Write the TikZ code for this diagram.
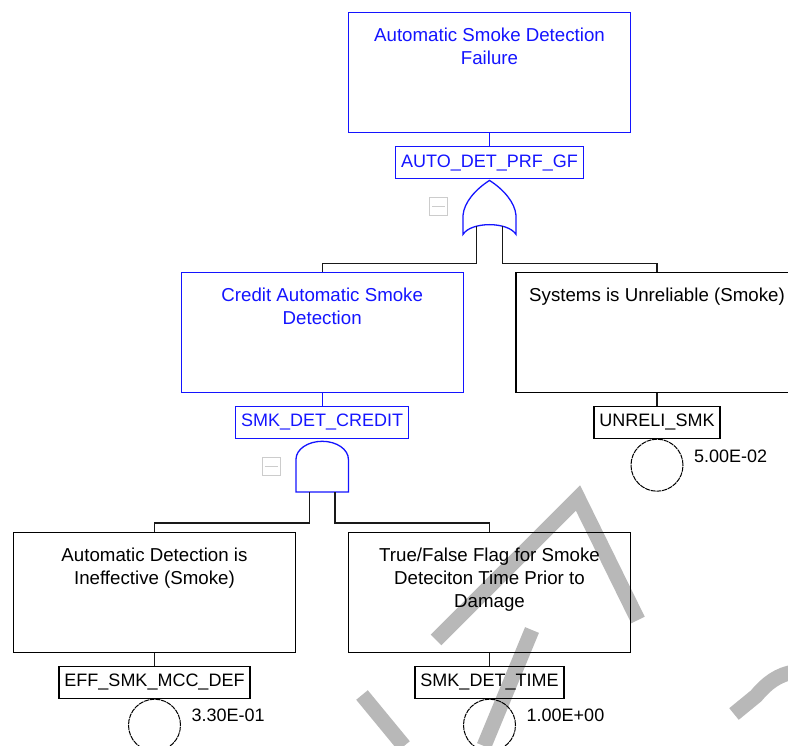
\documentclass[tikz,border=0pt]{standalone}
\usepackage{fontspec}
\setmainfont{Liberation Sans}
\usetikzlibrary{positioning}
\definecolor{ftblue}{RGB}{20,20,255}
\definecolor{wmgray}{RGB}{184,184,184}
\tikzset{
	evbox/.style={draw, line width=1.2pt, minimum width=282pt, minimum height=120pt, inner sep=0pt, anchor=north},
	evtext/.style={inner sep=0pt, align=center, anchor=north, font=\fontsize{18.7}{23}\selectfont},
	idbox/.style={draw, line width=1.2pt, minimum height=32pt, inner xsep=5.5pt, inner ysep=0pt, anchor=north, font=\fontsize{18}{22}\selectfont},
	basic/.style={draw, circle, minimum size=52pt, inner sep=0pt, line width=1pt, dash pattern=on 5pt off 0.8pt, anchor=north},
	prob/.style={inner sep=0pt, anchor=west, font=\fontsize{18}{22}\selectfont},
	gateline/.style={draw=ftblue, line width=1.3pt},
	wire/.style={line width=1.3pt, black!90},
	collapse/.style={draw=black!20, line width=1.2pt, minimum size=18pt, inner sep=0pt,
		path picture={\draw[black!20, line width=1.2pt] ([xshift=2.5pt]path picture bounding box.west) -- ([xshift=-2.5pt]path picture bounding box.east);}},
	wmark/.style={wmgray, line width=15pt}
}

\begin{document}
\begin{tikzpicture}[x=1pt,y=-1pt]
			%%%%% START %%%%%
			\useasboundingbox (0,0) rectangle (788,746);
			
			% watermark
			\draw[wmark] (436,640) -- (578,498) -- (638,620);
			\draw[wmark] (532,630) -- (484,746);
			\draw[wmark] (362,695) -- (404,746);
			\draw[wmark] (734,714) -- (756,696) .. controls (766,684) and (778,674) .. (795,672);
			
			% top event
			\node[evbox, ftblue] (topbox) at (489.5,12) {};
			\node[evtext, ftblue, below=16pt of topbox.north] (toptext) {Automatic Smoke Detection\\Failure};
			\node[idbox, ftblue, below=13pt of topbox] (topid) {AUTO\_DET\_PRF\_GF};
			\draw[ftblue, line width=1.2pt] (topbox) -- (topid);
			
			% or gate
			\begin{scope}[shift={(topid.south)}]
				\draw[gateline] (0,1) .. controls (-14,10) and (-25.5,23) .. (-26.5,36) -- (-26.5,55) .. controls (-18.5,42) and (18.5,42) .. (26.5,55) -- (26.5,36) .. controls (25.5,23) and (14,10) .. (0,1) -- cycle;
				\coordinate (or-in1) at (-12.8,46.8);
				\coordinate (or-in2) at (12.8,46.8);
				\node[collapse] (orbtn) at (-51,27) {};
			\end{scope}
			
			% second level
			\node[evbox, ftblue] (credbox) at (322.2,271.7) {};
			\node[evtext, ftblue, below=16pt of credbox.north] (credtext) {Credit Automatic Smoke\\Detection};
			\node[idbox, ftblue, below=12.6pt of credbox] (credid) {SMK\_DET\_CREDIT};
			\draw[ftblue, line width=1.2pt] (credbox) -- (credid);
			
			\node[evbox] (sysbox) at (657,271.7) {};
			\node[evtext, below=16pt of sysbox.north] (systext) {Systems is Unreliable (Smoke)};
			\node[idbox, below=12.6pt of sysbox] (sysid) {UNRELI\_SMK};
			\draw[wire] (sysbox) -- (sysid);
			\node[basic, below=0pt of sysid] (sysev) {};
			\node[prob] (sysprob) at ([xshift=37pt,yshift=9pt]sysev.center) {5.00E-02};
			
			\draw[wire] (or-in1) -- ++(0,37.2) -| (credbox.north);
			\draw[wire] (or-in2) -- ++(0,37.2) -| (sysbox.north);
			
			% and gate
			\begin{scope}[shift={(credid.south)}]
				\draw[gateline] (-26.2,53.3) -- (-26.2,20.6) .. controls (-26.2,10.66) and (-14.47,2.6) .. (0,2.6) .. controls (14.47,2.6) and (26.2,10.66) .. (26.2,20.6) -- (26.2,53.3) -- cycle;
				\coordinate (and-in1) at (-12.8,53.3);
				\coordinate (and-in2) at (12.8,53.3);
				\node[collapse] (andbtn) at (-51,27.6) {};
			\end{scope}
			
			% third level
			\node[evbox] (effbox) at (154.5,531.7) {};
			\node[evtext, below=16pt of effbox.north] (efftext) {Automatic Detection is\\Ineffective (Smoke)};
			\node[idbox, below=12.6pt of effbox] (effid) {EFF\_SMK\_MCC\_DEF};
			\draw[wire] (effbox) -- (effid);
			\node[basic, below=0pt of effid] (effev) {};
			\node[prob] (effprob) at ([xshift=37pt,yshift=10pt]effev.center) {3.30E-01};
			
			\node[evbox] (timebox) at (489.5,531.7) {};
			\node[evtext, below=16pt of timebox.north] (timetext) {True/False Flag for Smoke\\Deteciton Time Prior to\\Damage};
			\node[idbox, below=12.6pt of timebox] (timeid) {SMK\_DET\_TIME};
			\draw[wire] (timebox) -- (timeid);
			\node[basic, below=0pt of timeid] (timeev) {};
			\node[prob] (timeprob) at ([xshift=37pt,yshift=10pt]timeev.center) {1.00E+00};
			
			\draw[wire] (and-in1) -- ++(0,31) -| (effbox.north);
			\draw[wire] (and-in2) -- ++(0,31) -| (timebox.north);
			
			%%%%% END %%%%%
\end{tikzpicture}
\end{document}
